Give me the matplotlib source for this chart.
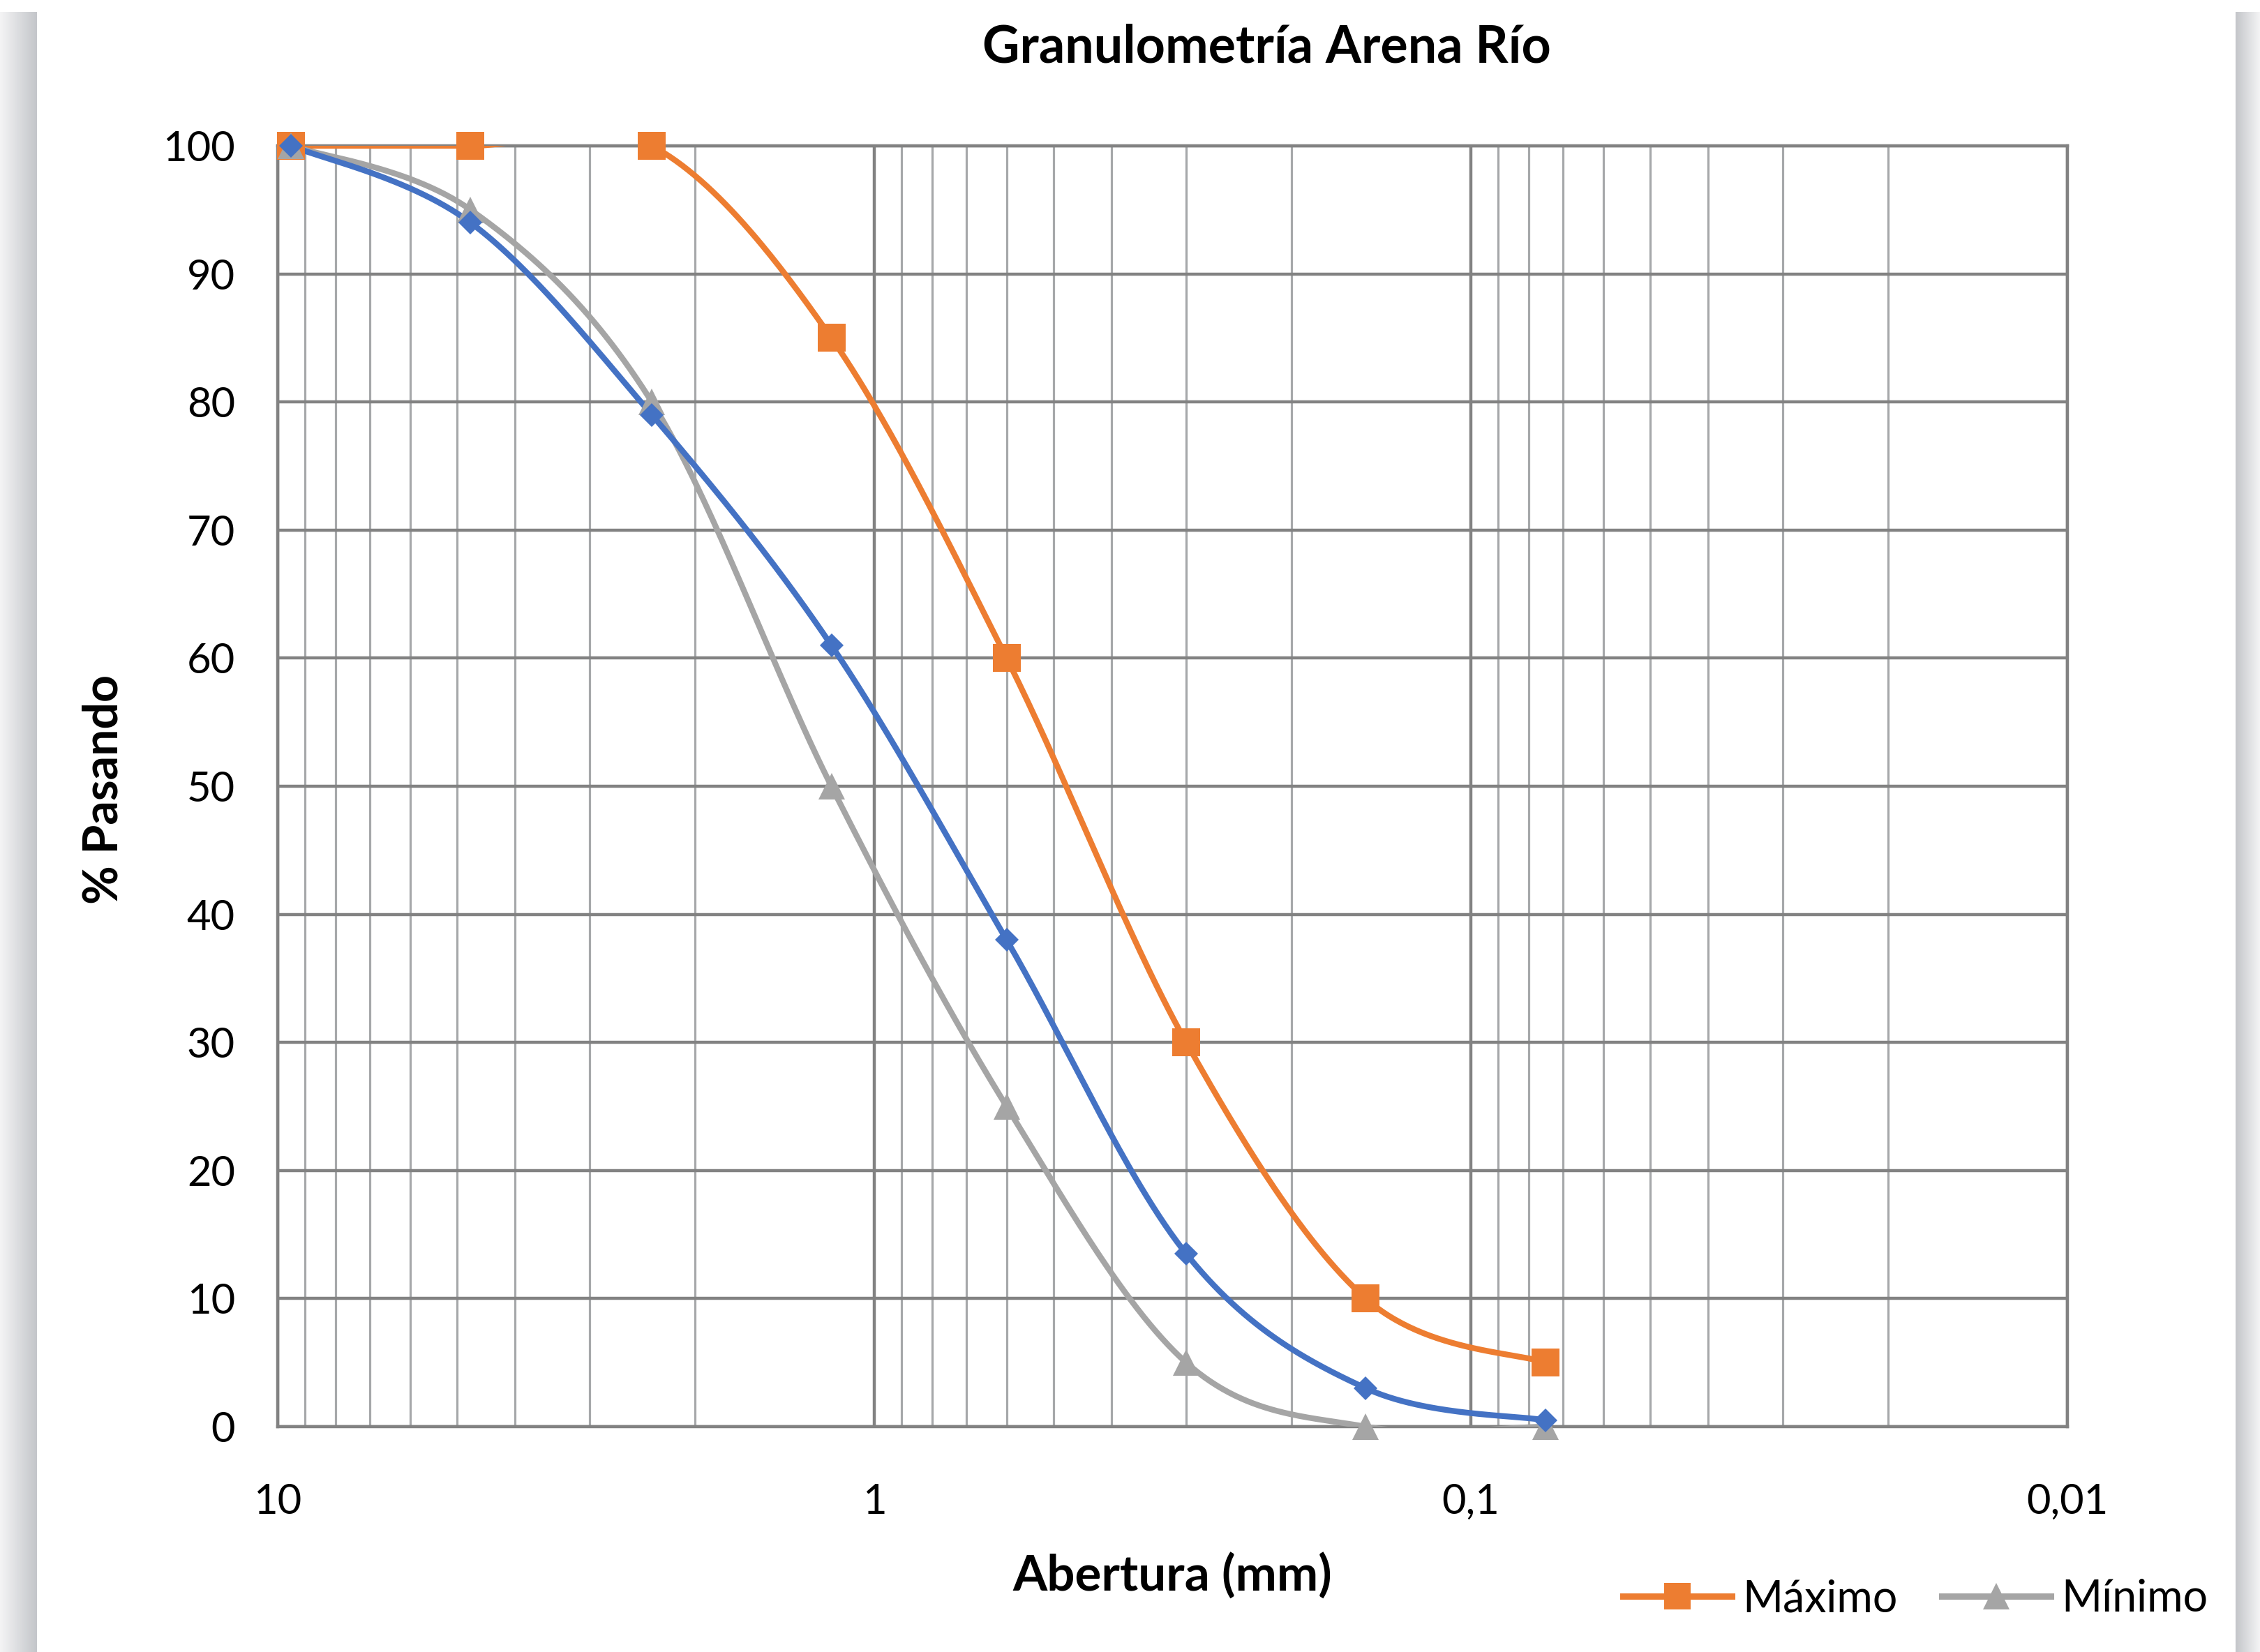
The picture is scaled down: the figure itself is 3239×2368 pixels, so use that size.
import numpy as np
import matplotlib
matplotlib.use("Agg")
import matplotlib.pyplot as plt
from matplotlib.lines import Line2D

# ---- data -----------------------------------------------------------------------
abertura = [9.5, 4.75, 2.36, 1.18, 0.6, 0.3, 0.15, 0.075]
maximo = [100, 100, 100, 85, 60, 30, 10, 5]
minimo = [100, 95, 80, 50, 25, 5, 0, 0]
muestra = [100, 94, 79, 61, 38, 13.5, 3, 0.5]

x_ticks = [10, 1, 0.1, 0.01]
x_ticklabels = ["10", "1", "0,1", "0,01"]
y_ticks = list(range(0, 101, 10))

ORANGE = "#ED7D31"
GRAY = "#A5A5A5"
BLUE = "#4472C4"
FONT = "Lato"


def smooth(x, y, n=60):
    """Excel-style smoothed line: Bezier through points, control = neighbours / 6."""
    pts = np.column_stack([np.log10(x), np.asarray(y, dtype=float)])
    pad = np.vstack([pts[0], pts, pts[-1]])
    t = np.linspace(0, 1, n)[:, None]
    segs = []
    for i in range(len(pts) - 1):
        p0, p1, p2, p3 = pad[i], pad[i + 1], pad[i + 2], pad[i + 3]
        c1 = p1 + (p2 - p0) / 6
        c2 = p2 - (p3 - p1) / 6
        segs.append((1 - t) ** 3 * p1 + 3 * (1 - t) ** 2 * t * c1
                    + 3 * (1 - t) * t ** 2 * c2 + t ** 3 * p2)
    s = np.vstack(segs)
    return 10 ** s[:, 0], s[:, 1]


plt.rcParams["font.family"] = [FONT, "DejaVu Sans"]

fig = plt.figure(figsize=(32.39, 23.68), dpi=100)
fig.patch.set_facecolor("white")

# shadow strips at the sides of the chart picture
grad = np.linspace(0, 1, 64)[None, :]
shade = matplotlib.colors.LinearSegmentedColormap.from_list("sh", ["#f4f4f5", "#c4c6ca"])
sh_l = fig.add_axes([0, 0, 52 / 3239, 1 - 17 / 2368])
sh_l.imshow(grad, aspect="auto", cmap=shade)
sh_l.axis("off")
sh_r = fig.add_axes([3204 / 3239, 0, 35 / 3239, 1 - 17 / 2368])
sh_r.imshow(grad[:, ::-1], aspect="auto", cmap=shade)
sh_r.axis("off")

ax = fig.add_axes([398 / 3239, 1 - 2045 / 2368, (2963 - 398) / 3239, (2045 - 209) / 2368])
ax.set_xscale("log")
ax.set_xlim(10, 0.01)
ax.set_ylim(0, 100)

ax.set_xticks(x_ticks)
ax.set_xticklabels(x_ticklabels)
ax.set_yticks(y_ticks)
ax.tick_params(axis="both", which="both", length=0, labelsize=43)
ax.tick_params(axis="y", pad=44)
ax.tick_params(axis="x", pad=58)

ax.grid(True, which="major", color="#828282", linewidth=3.2)
ax.grid(True, which="minor", axis="x", color="#a6a8aa", linewidth=2.3)
ax.set_axisbelow(True)
for sp in ax.spines.values():
    sp.set_color("#828282")
    sp.set_linewidth(3.2)

series = [
    (maximo, ORANGE, "s", 29, "Máximo"),
    (minimo, GRAY, "^", 28, "Mínimo"),
    (muestra, BLUE, "D", 17, None),
]
for vals, col, mk, ms, lab in series:
    sx, sy = smooth(abertura, vals)
    ax.plot(sx, sy, color=col, linewidth=6, solid_capstyle="round", zorder=3)
    ax.plot(abertura, vals, linestyle="none", marker=mk, markersize=ms,
            color=col, markeredgewidth=0, clip_on=False, zorder=4)

fig.text(1815 / 3239, 1 - 68 / 2368, "Granulometría Arena Río", ha="center", va="center",
         fontsize=53, fontweight="bold")
fig.text(149 / 3239, 1 - 1132 / 2368, "% Pasando", ha="center", va="center",
         rotation=90, fontsize=49, fontweight="bold")
fig.text(1680 / 3239, 1 - 2258 / 2368, "Abertura (mm)", ha="center", va="center",
         fontsize=51, fontweight="bold")

handles = [
    Line2D([], [], color=ORANGE, linewidth=6.5, marker="s", markersize=28, markeredgewidth=0),
    Line2D([], [], color=GRAY, linewidth=6.5, marker="^", markersize=28, markeredgewidth=0),
]
fig.legend(handles, ["Máximo", "Mínimo"], loc="center right", bbox_to_anchor=(0.977, 0.032),
           ncol=2, frameon=False, fontsize=45, handlelength=2.5, handletextpad=0.25,
           columnspacing=1.0, borderaxespad=0, borderpad=0)

fig.savefig("out.png", dpi=100)
